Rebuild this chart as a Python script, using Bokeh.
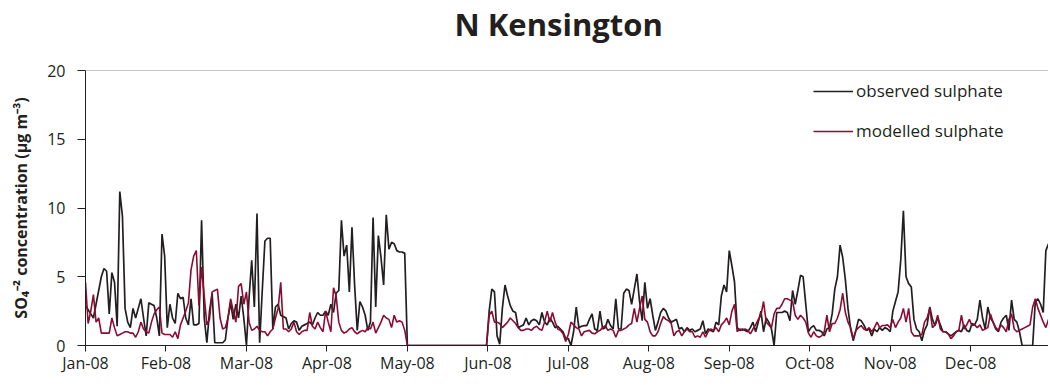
from bokeh.plotting import figure
from bokeh.models import (Range1d, FixedTicker, CustomJSTickFormatter, Legend,
                          LegendItem, Span, ColumnDataSource, Title)
from bokeh.embed import file_html
from bokeh.resources import INLINE

title_text = "N Kensington"
y_label = "SO\u2084\u207b\u00b2 concentration (\u03bcg m\u207b\u00b3)"
month_labels = ["Jan-08", "Feb-08", "Mar-08", "Apr-08", "May-08", "Jun-08",
                "Jul-08", "Aug-08", "Sep-08", "Oct-08", "Nov-08", "Dec-08"]
y_ticks = [0, 5, 10, 15, 20]

# daily observed sulphate, 1 Jan - 31 Dec 2008 (366 days)
observed = [
    2.9, 2.6, 2.3, 2.0, 3.0, 4.0, 5.0, 5.6, 5.4, 2.3,
    5.3, 4.6, 1.4, 11.2, 9.4, 2.7, 1.7, 1.3, 2.7, 2.0,
    2.7, 3.4, 2.0, 0.7, 3.1, 3.0, 2.9, 2.0, 0.7, 8.1,
    6.5, 1.3, 3.0, 2.0, 1.6, 3.8, 3.4, 3.5, 2.0, 1.5,
    3.4, 1.5, 1.5, 1.6, 9.1, 2.0, 0.2, 2.5, 3.8, 0.2,
    0.2, 0.2, 0.2, 0.4, 2.0, 3.1, 1.9, 3.0, 2.0, 3.6,
    2.0, 0.0, 3.5, 6.2, 2.8, 9.6, 0.2, 4.0, 7.6, 7.8,
    7.8, 1.2, 2.8, 3.0, 2.2, 2.1, 2.0, 1.2, 1.6, 1.8,
    1.7, 1.1, 1.4, 1.5, 1.6, 1.7, 1.5, 2.0, 2.4, 2.2,
    2.2, 2.5, 2.2, 3.0, 2.4, 3.8, 4.0, 9.1, 6.5, 7.3,
    3.9, 8.6, 4.4, 1.1, 3.2, 2.8, 2.2, 1.1, 1.7, 9.3,
    2.8, 8.0, 6.4, 4.4, 9.5, 7.0, 7.5, 7.4, 6.9, 6.8,
    6.8, 6.7, 0.0, 0.0, 0.0, 0.0, 0.0, 0.0, 0.0, 0.0,
    0.0, 0.0, 0.0, 0.0, 0.0, 0.0, 0.0, 0.0, 0.0, 0.0,
    0.0, 0.0, 0.0, 0.0, 0.0, 0.0, 0.0, 0.0, 0.0, 0.0,
    0.0, 0.0, 0.0, 2.5, 4.1, 3.9, 0.7, 0.1, 2.7, 4.4,
    3.6, 2.9, 2.5, 2.4, 1.3, 1.4, 1.5, 2.0, 1.5, 1.8,
    1.9, 1.8, 1.5, 2.4, 1.7, 1.5, 2.0, 1.7, 1.3, 1.4,
    1.2, 1.0, 0.5, 0.5, 0.0, 1.0, 2.8, 1.3, 1.4, 1.45,
    1.45, 1.9, 2.3, 1.2, 1.1, 2.5, 1.2, 1.3, 1.9, 1.45,
    1.2, 3.4, 1.2, 1.2, 3.8, 4.1, 4.0, 3.0, 4.1, 5.2,
    3.2, 1.8, 4.6, 2.7, 3.4, 2.2, 1.1, 1.7, 2.4, 2.7,
    2.5, 2.0, 1.7, 1.8, 1.9, 1.2, 1.3, 1.0, 1.3, 1.1,
    1.2, 1.0, 1.1, 1.2, 1.8, 0.85, 1.2, 1.1, 1.0, 1.7,
    1.5, 3.6, 4.4, 3.9, 6.9, 5.8, 4.6, 1.3, 1.1, 1.2,
    1.1, 1.0, 1.3, 1.7, 1.0, 1.7, 2.5, 1.0, 2.0, 1.7,
    1.2, 0.0, 2.4, 2.4, 2.4, 2.5, 2.4, 1.8, 4.0, 3.0,
    4.0, 5.1, 5.0, 3.0, 1.0, 1.3, 1.45, 1.1, 1.1, 1.0,
    0.7, 1.2, 1.3, 2.3, 4.1, 5.0, 7.3, 6.4, 4.8, 2.7,
    1.2, 0.35, 1.1, 1.9, 1.8, 1.5, 1.1, 1.2, 0.7, 1.2,
    1.0, 1.3, 1.1, 1.3, 1.2, 1.0, 2.5, 3.2, 3.9, 6.2,
    9.8, 5.0, 4.5, 4.25, 1.9, 1.2, 1.0, 0.35, 1.1, 1.5,
    2.8, 1.9, 1.45, 2.0, 1.5, 1.0, 1.0, 0.85, 0.7, 0.85,
    1.0, 1.1, 1.0, 1.5, 1.1, 1.0, 1.6, 1.5, 1.9, 3.3,
    2.0, 1.2, 2.8, 2.0, 1.7, 1.2, 1.0, 1.7, 2.0, 2.2,
    1.1, 3.3, 1.9, 1.7, 1.0, 0.0, 0.0, 0.0, 0.0, 0.0,
    3.2, 3.4, 3.0, 2.4, 6.9, 7.4,
]

# daily modelled sulphate
modelled = [
    4.6, 1.6, 2.5, 3.7, 1.7, 2.0, 0.9, 0.9, 0.9, 0.9,
    2.0, 1.3, 0.7, 0.8, 0.9, 1.0, 1.0, 0.9, 0.9, 0.6,
    1.0, 1.7, 1.2, 1.0, 0.9, 1.7, 2.3, 2.6, 2.8, 0.9,
    0.8, 0.8, 0.8, 0.6, 1.0, 0.5, 1.5, 2.0, 2.5, 3.1,
    5.5, 6.5, 6.9, 2.9, 5.7, 3.6, 1.5, 1.9, 3.9, 4.0,
    4.1, 2.0, 1.2, 1.3, 2.0, 3.4, 2.5, 1.7, 4.3, 4.5,
    3.0, 3.9, 1.7, 1.1, 1.2, 1.4, 1.1, 1.0, 1.0, 0.7,
    1.0, 1.2, 2.0, 2.7, 4.6, 1.2, 1.2, 1.0, 1.2, 1.7,
    1.0, 0.8, 1.0, 1.1, 1.1, 2.4, 1.4, 1.2, 1.7, 1.3,
    1.0, 2.5, 1.7, 1.0, 4.2, 3.6, 1.7, 1.1, 0.9, 1.0,
    1.2, 1.3, 1.0, 0.85, 1.0, 1.1, 1.0, 1.3, 1.2, 1.7,
    0.9, 1.3, 1.7, 2.2, 2.0, 1.9, 1.3, 2.2, 1.7, 1.8,
    1.7, 1.1, 0.0, 0.0, 0.0, 0.0, 0.0, 0.0, 0.0, 0.0,
    0.0, 0.0, 0.0, 0.0, 0.0, 0.0, 0.0, 0.0, 0.0, 0.0,
    0.0, 0.0, 0.0, 0.0, 0.0, 0.0, 0.0, 0.0, 0.0, 0.0,
    0.0, 0.0, 0.0, 2.2, 2.5, 1.7, 1.7, 1.6, 1.3, 1.5,
    1.7, 2.0, 1.8, 1.6, 1.3, 1.1, 1.1, 1.2, 1.2, 1.1,
    1.3, 1.4, 1.2, 1.1, 1.7, 2.5, 1.7, 2.4, 1.7, 1.2,
    1.1, 0.85, 0.3, 0.8, 1.7, 1.5, 1.3, 1.2, 0.7, 1.0,
    1.05, 1.1, 0.9, 0.85, 1.0, 1.1, 1.3, 1.45, 1.1, 1.2,
    1.1, 0.6, 1.1, 1.1, 1.2, 1.3, 1.5, 1.6, 2.7, 1.7,
    2.7, 3.6, 1.9, 1.7, 1.0, 0.7, 0.7, 1.0, 1.6, 2.1,
    1.9, 1.8, 1.6, 0.7, 1.0, 1.1, 0.7, 1.0, 1.2, 1.0,
    1.0, 0.6, 0.7, 0.6, 1.0, 0.6, 1.0, 1.2, 1.1, 1.3,
    1.0, 1.5, 1.7, 2.0, 1.5, 2.5, 3.0, 1.0, 1.2, 1.1,
    1.2, 1.1, 0.85, 1.2, 1.5, 1.9, 2.2, 3.2, 1.7, 1.5,
    1.3, 2.3, 2.7, 2.7, 3.0, 3.4, 3.4, 3.3, 3.2, 2.2,
    1.9, 2.2, 2.0, 1.7, 0.9, 0.6, 1.0, 0.7, 0.6, 0.7,
    1.0, 2.2, 1.0, 1.6, 1.6, 2.0, 2.6, 3.8, 2.4, 1.7,
    1.3, 0.5, 1.1, 1.3, 1.45, 1.2, 1.1, 1.3, 1.0, 1.3,
    1.7, 1.3, 1.45, 1.45, 1.5, 1.3, 1.9, 1.3, 1.7, 2.0,
    2.7, 1.7, 2.7, 1.0, 0.7, 0.7, 0.7, 0.8, 1.7, 2.0,
    2.7, 1.3, 1.5, 2.2, 1.2, 1.0, 1.0, 0.85, 0.5, 0.7,
    1.0, 1.1, 2.2, 1.2, 1.5, 1.9, 1.45, 1.5, 1.3, 1.5,
    1.1, 1.2, 1.3, 2.3, 1.7, 1.3, 1.1, 1.5, 1.3, 1.0,
    1.9, 2.3, 1.2, 1.0, 1.1, 1.2, 1.3, 1.4, 1.5, 2.8,
    3.4, 2.7, 2.2, 1.7, 1.3, 1.9,
]

days = list(range(len(observed)))
n_days = len(days)
month_step = n_days / 12.0

src = ColumnDataSource(data=dict(day=days, obs=observed, mod=modelled[:n_days]))

FONT = "Open Sans"
TXT = "#231f20"
RED = "#8c0b32"

p = figure(width=1048, height=380, output_backend="svg", toolbar_location=None,
           x_range=Range1d(0, n_days - 1), y_range=Range1d(0, 20),
           min_border_left=85, min_border_right=0, min_border_top=70,
           min_border_bottom=35)

p.title.text = title_text
p.title.align = "left"
p.title.offset = 369
p.title.text_font = FONT
p.title.text_font_style = "bold"
p.title.text_font_size = "31px"
p.title.text_color = TXT
p.title.standoff = 0

# thin spacer between the title and the plot frame
spacer = Title(text=" ", text_font_size="2px", standoff=22)
p.add_layout(spacer, "above")

p.xgrid.visible = False
p.ygrid.visible = False
p.outline_line_color = None
p.background_fill_color = "white"
p.border_fill_color = "white"

top_line = Span(location=20, dimension="width", line_color="#8a8a8a", line_width=1)
p.add_layout(top_line)

r_obs = p.line("day", "obs", source=src, line_color=TXT, line_width=1.7)
r_mod = p.line("day", "mod", source=src, line_color=RED, line_width=1.6)

# axes
p.yaxis.ticker = FixedTicker(ticks=y_ticks)
p.yaxis.axis_label = y_label
p.yaxis.axis_label_text_font = FONT
p.yaxis.axis_label_text_font_style = "bold"
p.yaxis.axis_label_text_font_size = "16px"
p.yaxis.axis_label_text_color = TXT
p.yaxis.axis_label_standoff = 12
p.yaxis.major_label_standoff = 12
p.yaxis.major_tick_out = 8
p.yaxis.major_tick_in = 0
p.yaxis.minor_tick_line_color = None

p.xaxis.ticker = FixedTicker(ticks=[i * month_step for i in range(12)])
p.xaxis.formatter = CustomJSTickFormatter(
    args=dict(labels=month_labels, step=month_step),
    code="const i = Math.round(tick / step); return labels[i] || '';")
p.xaxis.major_tick_out = 6
p.xaxis.major_tick_in = 0
p.xaxis.minor_tick_line_color = None
p.xaxis.major_label_standoff = 0

for ax in (p.xaxis[0], p.yaxis[0]):
    ax.axis_line_color = TXT
    ax.major_tick_line_color = TXT
    ax.major_label_text_font = FONT
    ax.major_label_text_font_size = "16px"
    ax.major_label_text_color = TXT

legend = Legend(items=[LegendItem(label="observed sulphate", renderers=[r_obs]),
                       LegendItem(label="modelled sulphate", renderers=[r_mod])],
                location=(728, 203), border_line_color=None,
                background_fill_alpha=0, glyph_width=40, glyph_height=20,
                label_text_font=FONT, label_text_font_size="17px",
                label_text_color=TXT, spacing=17, padding=0, margin=0,
                label_standoff=3)
p.add_layout(legend)

open("out.html", "w").write(file_html(p, INLINE))
